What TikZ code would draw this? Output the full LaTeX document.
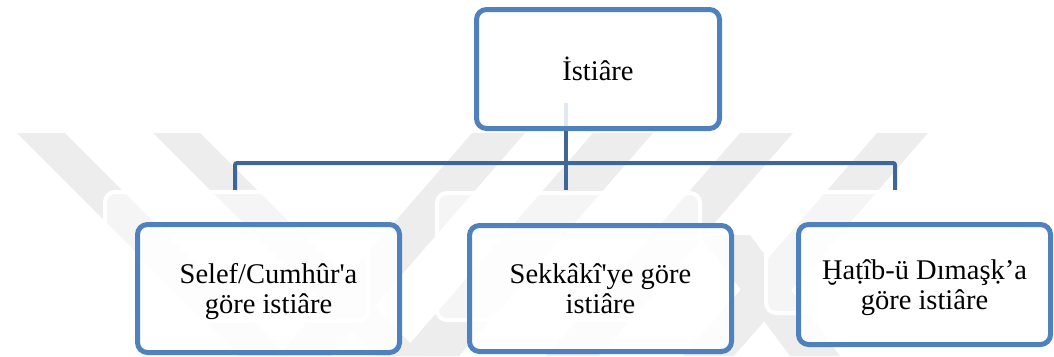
\documentclass[tikz,border=0pt]{standalone}
\usepackage{fontspec}
\setmainfont{Liberation Serif}[Ligatures=TeXOff]
\usetikzlibrary{calc}
\definecolor{boxblue}{RGB}{79,129,189}
\definecolor{linkblue}{RGB}{62,102,150}
\definecolor{wmgray}{RGB}{237,237,237}
\begin{document}
\begin{tikzpicture}[x=1pt,y=-1pt,
  card/.style={draw=boxblue, line width=5pt, rounded corners=10pt,
    fill=white, fill opacity=0.85, text opacity=1, align=center,
    inner sep=0pt, text depth=0pt,
    font=\fontsize{28.5}{30}\selectfont},
  ghost/.style={draw=white, line width=4pt, rounded corners=10pt,
    fill=white, fill opacity=0.45},
  link/.style={draw=linkblue, line width=4pt},
  stripe/.style={fill=wmgray}]
\useasboundingbox (0,0) rectangle (1054,356);

% faint background emblem
\fill[stripe] (17,133) -- (65,133) -- (288,356) -- (240,356) -- cycle;
\fill[stripe] (153,133) -- (200,133) -- (423,356) -- (376,356) -- cycle;
\fill[stripe] (472,133) -- (525,133) -- (331,356) -- (278,356) -- cycle;
\fill[stripe] (593,133) -- (653,133) -- (459,356) -- (399,356) -- cycle;
\fill[stripe] (740,133) -- (793,133) -- (599,356) -- (546,356) -- cycle;
\fill[stripe] (877,133) -- (928,133) -- (734,356) -- (683,356) -- cycle;
\fill[stripe] (700,235) -- (750,235) -- (840,356) -- (790,356) -- cycle;

% junction points of the tree
\coordinate (src) at (566,103);
\coordinate (bar) at (566,163);
\coordinate (jl) at (235,190);
\coordinate (jm) at (566,190);
\coordinate (jr) at (895,190);

\draw[link] (src) -- (jm);
\draw[link, rounded corners=2pt] (jl) |- (bar) -| (jr);

% pale frames behind the lower boxes
\draw[ghost] (105,192) rectangle (368,321);
\draw[ghost] (437,193) rectangle (700,320);
\draw[ghost] (766,192) rectangle (1019,313);

\node[card, minimum width=243pt, minimum height=119pt] (root) at (598,69) {İstiâre};
\node[card, minimum width=262pt, minimum height=128pt] (selef) at (268.5,288.5)
  {Selef/Cumhûr'a\\göre istiâre};
\node[card, minimum width=262pt, minimum height=126pt] (sekkaki) at (600.5,288.5)
  {Sekkâkî'ye göre\\istiâre};
\node[card, minimum width=252pt, minimum height=120pt] (hatib) at (924.5,284.5)
  {Ḫaṭîb-ü Dımaşḳ’a\\göre istiâre};
\end{tikzpicture}
\end{document}
